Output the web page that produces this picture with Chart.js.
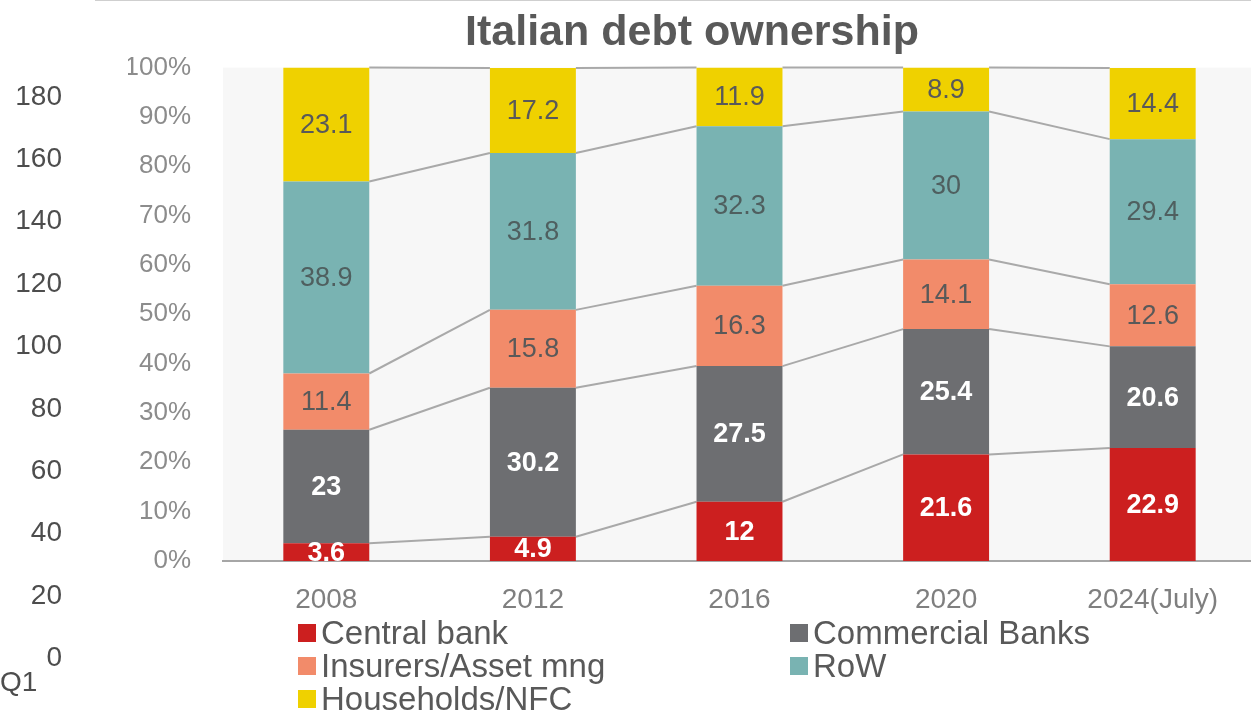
<!DOCTYPE html>
<html>
<head>
<meta charset="utf-8">
<script src="https://cdn.jsdelivr.net/npm/chart.js@4.4.1/dist/chart.umd.min.js"></script>
<style>
  html, body { margin: 0; padding: 0; width: 1251px; height: 711px; overflow: hidden; background: #fff; }
  #back { position: absolute; left: 0; top: 0; width: 1251px; height: 711px; }
  #front { position: absolute; left: 95px; top: 0; width: 1194px; height: 711px; background: #fff;
           box-shadow: inset 0 1px 0 #cfcfcf; filter: blur(0.4px); }
  #legend { position: absolute; left: 298px; top: 616px; display: grid; grid-template-columns: 492px auto;
            font: 33px "Liberation Sans", Arial, sans-serif; color: #595959; line-height: 33px; filter: blur(0.4px); }
  #legend .item { display: flex; align-items: center; white-space: nowrap; }
  #legend .box { width: 18px; height: 18px; margin-right: 5px; flex: none; }
</style>
</head>
<body>
<div id="back"><canvas id="backChart"></canvas></div>
<div id="front"><canvas id="debtChart"></canvas></div>
<div id="legend"></div>
<script>
// Years on the category axis
const years = ['2008', '2012', '2016', '2020', '2024(July)'];

// Share of Italian government debt held by each owner (%)
const centralBank      = [3.6, 4.9, 12, 21.6, 22.9];
const commercialBanks  = [23, 30.2, 27.5, 25.4, 20.6];
const insurersAssetMng = [11.4, 15.8, 16.3, 14.1, 12.6];
const restOfWorld      = [38.9, 31.8, 32.3, 30, 29.4];
const householdsNFC    = [23.1, 17.2, 11.9, 8.9, 14.4];

// Underlying quarterly axis
const backCategories = ['Q1'];
const backAxisMax = 180;
const backAxisStep = 20;

const FONT = '"Liberation Sans", Arial, sans-serif';

// ---- underlying chart (left value axis and quarter label) ----
new Chart(document.getElementById('backChart'), {
  type: 'bar',
  data: { labels: backCategories, datasets: [{ data: [] }] },
  options: {
    responsive: true, maintainAspectRatio: false, animation: false,
    layout: { padding: { top: 97, bottom: 11, left: 0, right: 0 } },
    plugins: {
      legend: { display: false }, tooltip: { enabled: false },
      subtitle: { display: true, text: backCategories[0], position: 'bottom', align: 'start',
                  color: '#4d4d4d', font: { family: FONT, size: 28 }, padding: { top: 8, bottom: 0 } }
    },
    scales: {
      x: { display: false },
      y: {
        min: 0, max: backAxisMax,
        afterFit: s => { s.width = 80; },
        ticks: { stepSize: backAxisStep, padding: 10, color: '#4d4d4d', font: { family: FONT, size: 28 } },
        grid: { display: false }, border: { display: false }
      }
    }
  }
});

// ---- ownership chart ----
const seriesDefs = [
  { label: 'Central bank',        data: centralBank,      color: '#cc1f1f', text: '#ffffff', bold: true },
  { label: 'Commercial Banks',    data: commercialBanks,  color: '#6d6e71', text: '#ffffff', bold: true },
  { label: 'Insurers/Asset mng',  data: insurersAssetMng, color: '#f28b6a', text: '#595959', bold: false },
  { label: 'RoW',                 data: restOfWorld,      color: '#79b3b2', text: '#4f5f5f', bold: false },
  { label: 'Households/NFC',      data: householdsNFC,    color: '#efd100', text: '#595959', bold: false }
];

const plotBackground = {
  id: 'plotBackground',
  beforeDraw(chart) {
    const { ctx, chartArea: a } = chart;
    ctx.save();
    ctx.fillStyle = '#f7f7f7';
    ctx.fillRect(a.left, a.top, a.right - a.left, a.bottom - a.top);
    ctx.restore();
  }
};

// Connector lines between the tops of matching segments of neighbouring bars
const seriesLines = {
  id: 'seriesLines',
  beforeDatasetsDraw(chart) {
    const { ctx } = chart;
    ctx.save();
    ctx.strokeStyle = '#a9a9a9';
    ctx.lineWidth = 2;
    chart.data.datasets.forEach((ds, k) => {
      const bars = chart.getDatasetMeta(k).data;
      for (let i = 0; i < bars.length - 1; i++) {
        const a = bars[i], b = bars[i + 1];
        ctx.beginPath();
        ctx.moveTo(a.x + a.width / 2, a.y);
        ctx.lineTo(b.x - b.width / 2, b.y);
        ctx.stroke();
      }
    });
    ctx.restore();
  }
};

// Value labels in the middle of each segment
const valueLabels = {
  id: 'valueLabels',
  afterDatasetsDraw(chart) {
    const { ctx } = chart;
    ctx.save();
    ctx.textAlign = 'center';
    ctx.textBaseline = 'middle';
    chart.data.datasets.forEach((ds, k) => {
      const bars = chart.getDatasetMeta(k).data;
      ctx.font = (seriesDefs[k].bold ? 'bold ' : '') + '27px ' + FONT;
      ctx.fillStyle = seriesDefs[k].text;
      bars.forEach((el, i) => {
        ctx.fillText(String(ds.data[i]), el.x, (el.y + el.base) / 2 + 1);
      });
    });
    ctx.restore();
  }
};

const debtChart = new Chart(document.getElementById('debtChart'), {
  type: 'bar',
  data: {
    labels: years,
    datasets: seriesDefs.map(s => ({
      label: s.label, data: s.data, backgroundColor: s.color, borderWidth: 0,
      barPercentage: 0.416, categoryPercentage: 1
    }))
  },
  options: {
    responsive: true, maintainAspectRatio: false, animation: false,
    layout: { padding: { top: 0, bottom: 88, left: 33, right: 33 } },
    plugins: {
      legend: { display: false }, tooltip: { enabled: false },
      title: { display: true, text: 'Italian debt ownership', color: '#595959',
               font: { family: FONT, size: 43, weight: 'bold' }, padding: { top: 7, bottom: 9 } }
    },
    scales: {
      x: {
        stacked: true,
        afterFit: s => { s.height = 62; },
        ticks: { padding: 14, color: '#7f7f7f', font: { family: FONT, size: 28 } },
        grid: { display: false },
        border: { display: true, color: '#a6a6a6', width: 2 }
      },
      y: {
        stacked: true, min: 0, max: 100,
        afterFit: s => { s.width = 95; },
        ticks: { stepSize: 10, padding: 24, color: '#8c8c8c', font: { family: FONT, size: 26 },
                 callback: v => v + '%' },
        grid: { display: false }, border: { display: false }
      }
    }
  },
  plugins: [plotBackground, seriesLines, valueLabels]
});

// Legend laid out in two columns
const legendEl = document.getElementById('legend');
debtChart.data.datasets.forEach(ds => {
  const item = document.createElement('div');
  item.className = 'item';
  const box = document.createElement('span');
  box.className = 'box';
  box.style.background = ds.backgroundColor;
  const txt = document.createElement('span');
  txt.textContent = ds.label;
  item.appendChild(box);
  item.appendChild(txt);
  legendEl.appendChild(item);
});
</script>
</body>
</html>
